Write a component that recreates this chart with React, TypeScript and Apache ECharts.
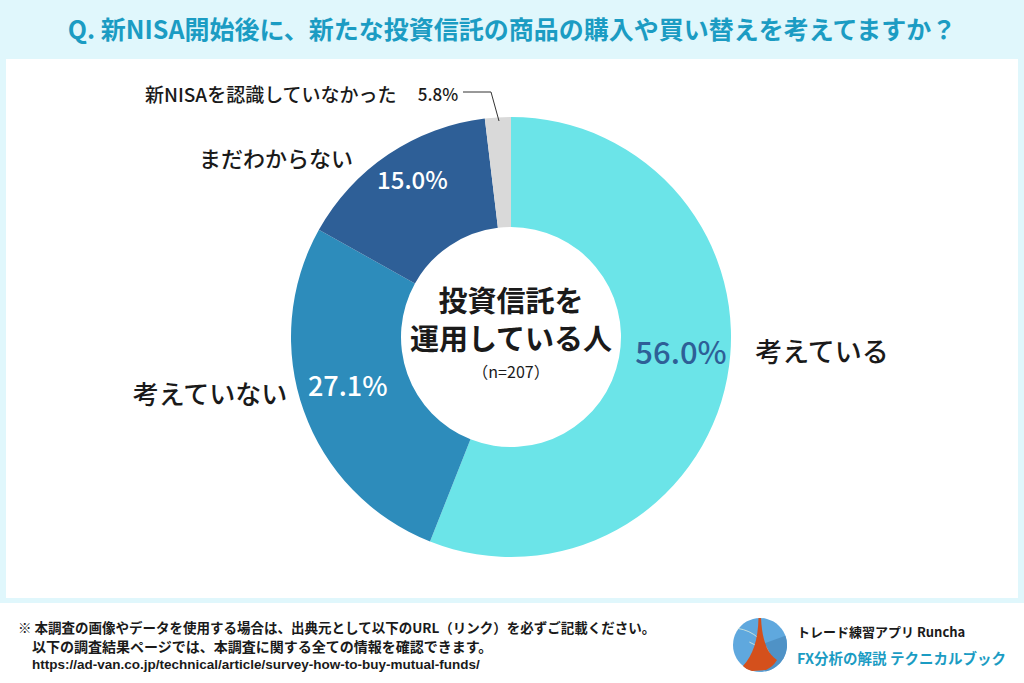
import React, { useEffect, useRef } from "react";
import * as echarts from "echarts";

const categories = ["考えている", "考えていない", "まだわからない", "新NISAを認識していなかった"];
const values = [56.0, 27.1, 15.0, 1.9];
const pctLabels = ["56.0%", "27.1%", "15.0%", "5.8%"];
const colors = ["#6be4e8", "#2d8cbb", "#2e5f97", "#d9d9d9"];
const titleText = "Q. 新NISA開始後に、新たな投資信託の商品の購入や買い替えを考えてますか？";
const centerLines = ["投資信託を", "運用している人"];
const sampleLabel = "（n=207）";
const footerLines = [
  "※ 本調査の画像やデータを使用する場合は、出典元として以下のURL（リンク）を必ずご記載ください。",
  "以下の調査結果ページでは、本調査に関する全ての情報を確認できます。",
  "https://ad-van.co.jp/technical/article/survey-how-to-buy-mutual-funds/",
];
const brandLines = ["トレード練習アプリ Runcha", "FX分析の解説 テクニカルブック"];

const JP = "'Noto Sans CJK JP', 'Noto Sans', sans-serif";

let registered = false;
function registerShapes() {
  if (registered) return;
  registered = true;
  echarts.graphic.registerShape(
    "tower",
    echarts.graphic.extendPath(
      "M -1.5 -27 L 1 -27 C 2 -8 6 8 17 15 C 14 20 10 23 6 25 L -8 26 C -12 25 -15 23 -17 21 C -7 10 -2 -5 -1.5 -27 Z",
      {}
    )
  );
}

export default function App() {
  const ref = useRef<HTMLDivElement>(null);
  useEffect(() => {
    document.body.style.margin = "0";
    registerShapes();
    const chart = echarts.init(ref.current!, null, { renderer: "svg" });
    const pctOffsets = [
      [5, -18],
      [-5, -9],
      [-5, -19],
    ];
    const pctSizes = [31, 27, 24];
    const pctColors = ["#2e5f97", "#ffffff", "#ffffff"];
    const data = values.map((v, i) => ({
      value: v,
      name: categories[i],
      itemStyle: { color: colors[i] },
      label:
        i < 3
          ? {
              show: true,
              position: "inside",
              offset: pctOffsets[i],
              fontSize: pctSizes[i],
              fontWeight: 500,
              color: pctColors[i],
              fontFamily: JP,
              formatter: () => pctLabels[i],
            }
          : { show: false },
    }));

    const catLabel = (text: string, x: number, y: number, size: number, align = "center") => ({
      type: "text",
      x,
      y,
      style: {
        text,
        fontSize: size,
        fontFamily: JP,
        fontWeight: 500,
        fill: "#1a1a1a",
        align,
        verticalAlign: "middle",
      },
    });

    chart.setOption({
      animation: false,
      backgroundColor: "#e0f7fc",
      graphic: [
        { type: "rect", shape: { x: 6, y: 59, width: 1012, height: 539 }, style: { fill: "#ffffff" }, z: -10 },
        { type: "rect", shape: { x: 0, y: 603, width: 1024, height: 80 }, style: { fill: "#ffffff" }, z: -10 },
        {
          type: "text",
          x: 512,
          y: 28,
          style: {
            text: titleText,
            fontSize: 25,
            fontWeight: "bold",
            fontFamily: JP,
            fill: "#1b9cc3",
            align: "center",
            verticalAlign: "middle",
          },
        },
        catLabel(categories[0], 822, 350, 27),
        catLabel(categories[1], 210, 392, 26),
        catLabel(categories[2], 276, 157, 22),
        catLabel(categories[3], 145, 93, 19, "left"),
        {
          type: "text",
          x: 438,
          y: 93,
          style: { text: pctLabels[3], fontSize: 17, fontFamily: JP, fontWeight: 500, fill: "#1a1a1a", align: "center", verticalAlign: "middle" },
        },
        {
          type: "polyline",
          shape: { points: [[463, 92], [491, 92], [499, 121]] },
          style: { stroke: "#333333", lineWidth: 1, fill: null },
          z: 10,
        },
        {
          type: "text",
          x: 511,
          y: 299,
          style: {
            text: centerLines[0],
            fontSize: 29,
            fontWeight: "bold",
            fontFamily: JP,
            fill: "#1a1a1a",
            align: "center",
            verticalAlign: "middle",
          },
          z: 10,
        },
        {
          type: "text",
          x: 511,
          y: 337,
          style: {
            text: centerLines[1],
            fontSize: 29,
            fontWeight: "bold",
            fontFamily: JP,
            fill: "#1a1a1a",
            align: "center",
            verticalAlign: "middle",
          },
          z: 10,
        },
        {
          type: "text",
          x: 511,
          y: 371,
          style: { text: sampleLabel, fontSize: 16, fontFamily: JP, fill: "#1a1a1a", align: "center", verticalAlign: "middle" },
          z: 10,
        },
        {
          type: "text",
          x: 18,
          y: 627,
          style: { text: footerLines[0], fontSize: 13.5, fontWeight: "bold", fontFamily: JP, fill: "#1a1a1a", verticalAlign: "middle" },
        },
        {
          type: "text",
          x: 32,
          y: 646,
          style: { text: footerLines[1], fontSize: 14, fontWeight: "bold", fontFamily: JP, fill: "#1a1a1a", verticalAlign: "middle" },
        },
        {
          type: "text",
          x: 32,
          y: 664,
          style: { text: footerLines[2], fontSize: 13.5, fontWeight: "bold", fontFamily: "'Liberation Sans', sans-serif", fill: "#1a1a1a", verticalAlign: "middle" },
        },
        { type: "circle", shape: { cx: 760, cy: 645, r: 27 }, style: { fill: "#5fa8de" } },
        {
          type: "sector",
          shape: { cx: 760, cy: 645, r: 27, r0: 0, startAngle: -Math.PI / 9, endAngle: Math.PI / 2.3, clockwise: true },
          style: { fill: "#4f92c6" },
        },
        {
          type: "arc",
          shape: { cx: 732, cy: 668, r: 40, startAngle: -Math.PI / 2.2, endAngle: -Math.PI / 12 },
          style: { stroke: "rgba(230,240,220,0.75)", lineWidth: 1, fill: null },
        },
        {
          type: "arc",
          shape: { cx: 738, cy: 672, r: 32, startAngle: -Math.PI / 2.6, endAngle: -Math.PI / 10 },
          style: { stroke: "rgba(230,240,220,0.75)", lineWidth: 1, fill: null },
        },
        { type: "tower", x: 760, y: 645, style: { fill: "#d4501c" } },
        {
          type: "text",
          x: 797,
          y: 631,
          style: { text: brandLines[0], fontSize: 13, fontWeight: "bold", fontFamily: JP, fill: "#1a1a1a", verticalAlign: "middle" },
        },
        {
          type: "text",
          x: 797,
          y: 657,
          style: { text: brandLines[1], fontSize: 14.5, fontWeight: "bold", fontFamily: JP, fill: "#1b9cc3", verticalAlign: "middle" },
        },
      ],
      series: [
        {
          type: "pie",
          center: [511, 337],
          radius: [110, 220],
          startAngle: 90,
          clockwise: true,
          avoidLabelOverlap: false,
          labelLine: { show: false },
          emphasis: { disabled: true },
          data,
        },
      ],
    });
    return () => chart.dispose();
  }, []);
  return <div ref={ref} style={{ width: 1024, height: 683 }} />;
}
